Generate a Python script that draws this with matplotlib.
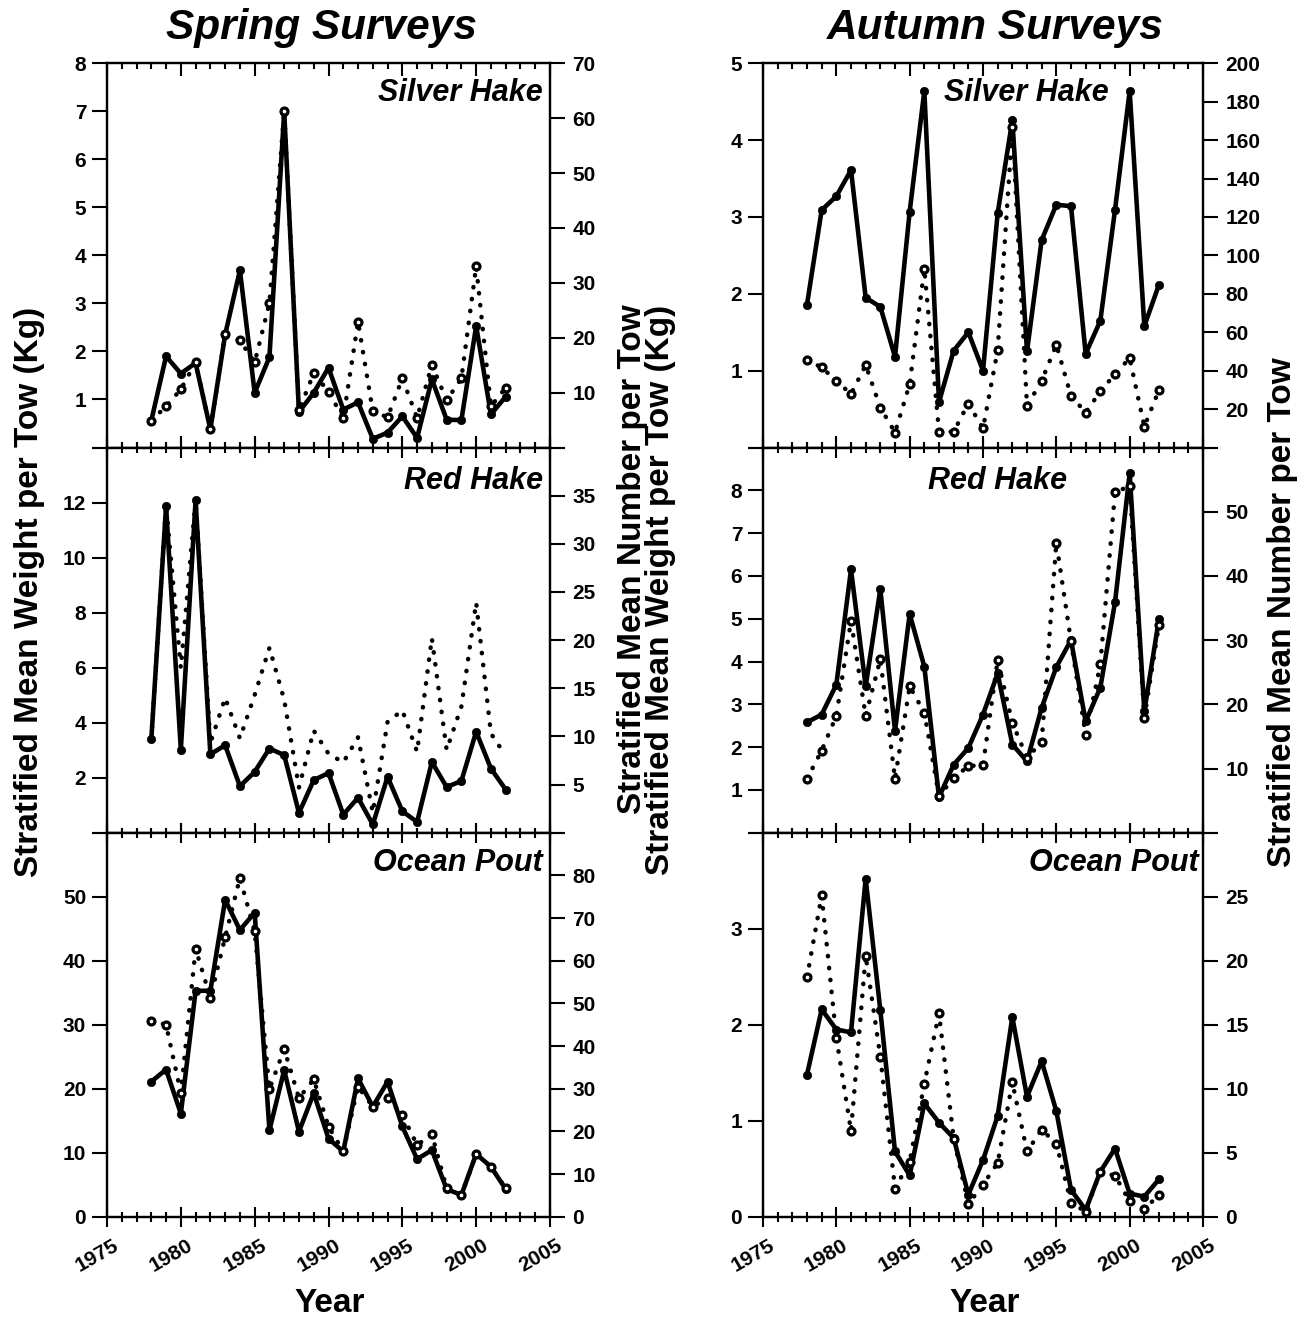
import matplotlib
matplotlib.use('Agg')
import matplotlib.pyplot as plt
from matplotlib.ticker import MultipleLocator
from matplotlib.transforms import ScaledTranslation

plt.rcParams['font.family'] = ['Liberation Sans', 'DejaVu Sans']
plt.rcParams['font.weight'] = 'bold'

years = list(range(1978, 2003))

# Spring surveys
spring_silver_wt = [0.56, 1.90, 1.54, 1.76, 0.38, 2.35, 3.69, 1.14, 1.88, 6.99, 0.74, 1.14, 1.66,
                    0.79, 0.94, 0.18, 0.31, 0.65, 0.20, 1.42, 0.58, 0.57, 2.53, 0.69, 1.06]
spring_silver_num = [4.9, 7.5, 10.6, 15.5, 3.3, 20.6, 19.5, 15.5, 26.3, 61.3, 6.8, 13.5, 10.2,
                     5.3, 22.9, 6.6, 5.5, 12.6, 5.4, 15.1, 8.6, 12.6, 33.0, 7.5, 10.9]
spring_red_wt = [3.39, 11.86, 3.02, 12.08, 2.85, 3.18, 1.69, 2.21, 3.06, 2.82, 0.72, 1.91, 2.17,
                 0.66, 1.27, 0.30, 2.03, 0.78, 0.39, 2.57, 1.66, 1.88, 3.67, 2.33, 1.57]
spring_red_num = [9.7, 34.0, 17.1, 34.6, 9.3, 14.0, 9.8, 14.3, 19.2, 13.8, 4.7, 10.6, 8.2,
                  7.3, 9.9, 2.1, 11.5, 12.7, 8.4, 20.2, 8.6, 13.1, 23.9, 10.3, 8.0]
spring_pout_wt = [21.1, 23.0, 16.1, 35.3, 35.3, 49.5, 44.8, 47.5, 13.5, 22.9, 13.3, 19.3, 12.2,
                  10.2, 21.6, 17.2, 21.1, 14.1, 9.0, 10.4, 4.3, 3.4, 9.8, 7.8, 4.3]
spring_pout_num = [45.9, 45.0, 29.0, 62.8, 51.3, 65.5, 79.4, 66.9, 29.9, 39.3, 27.8, 32.2, 21.1,
                   15.3, 30.5, 25.8, 27.8, 23.9, 16.8, 19.3, 6.7, 5.1, 14.7, 11.7, 6.7]

# Autumn surveys
autumn_silver_wt = [1.86, 3.09, 3.27, 3.61, 1.95, 1.83, 1.18, 3.07, 4.64, 0.59, 1.26, 1.50, 1.00,
                    3.05, 4.26, 1.25, 2.70, 3.16, 3.14, 1.22, 1.65, 3.09, 4.64, 1.58, 2.12]
autumn_silver_num = [45.5, 41.7, 34.7, 27.8, 42.9, 20.8, 7.8, 33.0, 92.9, 8.2, 8.2, 22.9, 9.9,
                     50.7, 166.7, 21.7, 34.7, 53.5, 26.9, 18.2, 29.2, 38.2, 46.5, 10.9, 30.0]
autumn_red_wt = [2.58, 2.76, 3.46, 6.15, 3.42, 5.69, 2.38, 5.11, 3.88, 0.83, 1.59, 1.98, 2.76,
                 3.72, 2.06, 1.67, 2.92, 3.87, 4.50, 2.60, 3.39, 5.38, 8.40, 2.84, 5.00]
autumn_red_num = [8.4, 12.8, 18.2, 33.0, 18.2, 27.0, 8.4, 22.8, 18.7, 5.7, 8.5, 10.4, 10.5,
                  26.9, 17.1, 11.7, 14.1, 45.2, 29.8, 15.2, 26.2, 53.0, 54.0, 17.9, 32.4]
autumn_pout_wt = [1.48, 2.16, 1.95, 1.92, 3.52, 2.15, 0.68, 0.43, 1.18, 0.98, 0.82, 0.23, 0.59,
                  1.05, 2.08, 1.25, 1.62, 1.10, 0.28, 0.07, 0.47, 0.71, 0.24, 0.21, 0.39]
autumn_pout_num = [18.7, 25.1, 14.0, 6.7, 20.4, 12.5, 2.2, 4.3, 10.4, 15.9, 6.1, 1.0, 2.5,
                   4.2, 10.5, 5.1, 6.8, 5.7, 1.1, 0.4, 3.5, 3.2, 1.2, 0.6, 1.7]

species = ['Silver Hake', 'Red Hake', 'Ocean Pout']
column_titles = ['Spring Surveys', 'Autumn Surveys']
x_ticks = [1975, 1980, 1985, 1990, 1995, 2000, 2005]

# panel definitions: (wt, num, left ticks, left hidden labels, right ticks, right hidden, number markers)
panels = [
    [
        (spring_silver_wt, spring_silver_num, list(range(0, 9)), [0], list(range(0, 71, 10)), [0], True),
        (spring_red_wt, spring_red_num, list(range(0, 15, 2)), [0, 14], list(range(0, 41, 5)), [0, 40], False),
        (spring_pout_wt, spring_pout_num, list(range(0, 61, 10)), [60], list(range(0, 91, 10)), [90], True),
    ],
    [
        (autumn_silver_wt, autumn_silver_num, list(range(0, 6)), [0], list(range(0, 201, 20)), [0], True),
        (autumn_red_wt, autumn_red_num, list(range(0, 10)), [0, 9], list(range(0, 61, 10)), [0, 60], True),
        (autumn_pout_wt, autumn_pout_num, list(range(0, 5)), [4], list(range(0, 31, 5)), [30], True),
    ],
]

label_pos = [
    [(0.984, 0.922, 'right'), (0.984, 0.912, 'right'), (0.984, 0.922, 'right')],
    [(0.598, 0.922, 'center'), (0.532, 0.912, 'center'), (0.989, 0.922, 'right')],
]

fig = plt.figure(figsize=(13.09, 13.23), dpi=100)

col_left = [107 / 1309, 763 / 1309]
col_w = [443 / 1309, 440 / 1309]
row_top_px = [63.3, 447.5, 832.7]
row_bot_px = [447.5, 832.7, 1216.7]
H = 1323.0

fs_tick = 15
for c in range(2):
    for r in range(3):
        wt, num, lt, lh, rt, rh, mk = panels[c][r]
        bottom = 1 - row_bot_px[r] / H
        height = (row_bot_px[r] - row_top_px[r]) / H
        ax = fig.add_axes([col_left[c], bottom, col_w[c], height])
        ax.plot(years, wt, color='black', lw=3.3, marker='o', ms=6, mfc='black', mec='black',
                mew=0.5, solid_joinstyle='round', solid_capstyle='round', zorder=3)
        ax.set_xlim(1975, 2005)
        ax.set_ylim(lt[0], lt[-1])
        ax.set_yticks(lt)
        ax.set_yticklabels(['' if v in lh else str(v) for v in lt], fontsize=fs_tick, fontweight='bold')
        ax.xaxis.set_major_locator(MultipleLocator(5))
        ax.xaxis.set_minor_locator(MultipleLocator(1))
        ax2 = ax.twinx()
        ax2.plot(years, num, color='black', lw=3.2, ls=(0, (0.1, 2.6)), dash_capstyle='round',
                 marker='o' if mk else None, ms=5, mfc='white', mec='black', mew=2.3, zorder=3)
        ax2.set_ylim(rt[0], rt[-1])
        ax2.set_yticks(rt)
        ax2.set_yticklabels(['' if v in rh else str(v) for v in rt], fontsize=fs_tick, fontweight='bold')
        for a in (ax, ax2):
            for s in a.spines.values():
                s.set_linewidth(1.6)
        ax.tick_params(axis='y', direction='out', length=11, width=1.5, pad=4)
        ax2.tick_params(axis='y', direction='out', length=11, width=1.5, pad=5)
        if r == 0:
            ax.tick_params(axis='x', which='major', direction='in', length=9, width=1.5, top=True, bottom=True)
            ax.tick_params(axis='x', which='minor', direction='in', length=4.5, width=1.5, top=True, bottom=True)
        else:
            ax.tick_params(axis='x', which='major', direction='inout', length=15, width=1.5, top=True, bottom=True)
            ax.tick_params(axis='x', which='minor', direction='inout', length=7.5, width=1.5, top=True, bottom=True)
        if r == 2:
            ax.set_xticks(x_ticks)
            ax.set_xticklabels([str(v) for v in x_ticks], rotation=30, ha='right', va='top',
                               rotation_mode='anchor', fontsize=fs_tick, fontweight='bold')
            ax.tick_params(axis='x', which='major', pad=6)
            for lab in ax.get_xticklabels():
                lab.set_transform(lab.get_transform() + ScaledTranslation(4 / 72, 0, fig.dpi_scale_trans))
        else:
            ax.tick_params(axis='x', labelbottom=False)
        lx, ly, la = label_pos[c][r]
        ax2.text(lx, ly, species[r], transform=ax.transAxes, ha=la, va='center',
                 fontsize=22, fontweight='bold', fontstyle='italic', zorder=5)

# titles
fig.text(322 / 1309, 1 - 28 / H, column_titles[0], ha='center', va='center', fontsize=30.5,
         fontweight='bold', fontstyle='italic')
fig.text(995 / 1309, 1 - 28 / H, column_titles[1], ha='center', va='center', fontsize=30.5,
         fontweight='bold', fontstyle='italic')

# axis labels
wt_label = 'Stratified Mean Weight per Tow (Kg)'
num_label = 'Stratified Mean Number per Tow'
fs_lab = 24
fig.text(30 / 1309, 1 - 592 / H, wt_label, rotation=90, ha='center', va='center', fontsize=fs_lab, fontweight='bold')
fig.text(632 / 1309, 1 - 559 / H, num_label, rotation=90, ha='center', va='center', fontsize=fs_lab, fontweight='bold')
fig.text(660 / 1309, 1 - 590 / H, wt_label, rotation=90, ha='center', va='center', fontsize=fs_lab, fontweight='bold')
fig.text(1283 / 1309, 1 - 612 / H, num_label, rotation=90, ha='center', va='center', fontsize=fs_lab, fontweight='bold')
fig.text(330 / 1309, 1 - 1304 / H, 'Year', ha='center', va='center', fontsize=24, fontweight='bold')
fig.text(985 / 1309, 1 - 1304 / H, 'Year', ha='center', va='center', fontsize=24, fontweight='bold')

fig.savefig('out.png', dpi=100)
